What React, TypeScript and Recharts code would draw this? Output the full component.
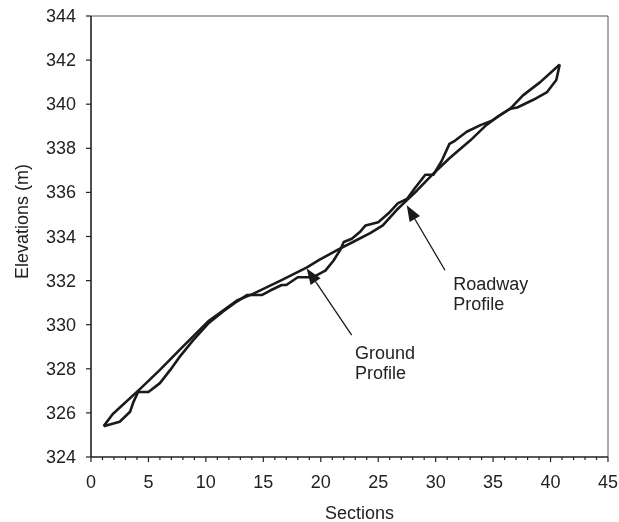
import React from "react";
import {
  LineChart,
  Line,
  XAxis,
  YAxis,
  ReferenceLine,
  ReferenceDot,
} from "recharts";

// ground profile (wiggly line)
const groundSections = [
  1.1, 2.5, 3.4, 3.7, 4.1, 5.0, 6.0, 6.9, 7.8, 8.9, 10.2, 11.5, 12.7, 13.6, 14.9,
  15.6, 16.6, 17.0, 18.0, 19.3, 20.4, 21.1, 21.7, 22.0, 22.7, 23.4, 23.9, 25.0,
  25.9, 26.7, 27.5, 28.2, 29.1, 29.8, 30.5, 31.2, 31.7, 32.7, 33.9, 34.9, 35.6,
  36.5, 37.1, 38.5, 39.7, 40.5, 40.8,
];
const groundElev = [
  325.4, 325.6, 326.05, 326.5, 326.95, 326.95, 327.35, 327.95, 328.6, 329.3,
  330.05, 330.6, 331.05, 331.35, 331.35, 331.55, 331.8, 331.8, 332.15, 332.15,
  332.45, 332.9, 333.4, 333.75, 333.9, 334.2, 334.5, 334.65, 335.05, 335.5,
  335.7, 336.2, 336.8, 336.8, 337.4, 338.2, 338.35, 338.75, 339.05, 339.25,
  339.5, 339.8, 339.85, 340.2, 340.55, 341.1, 341.8,
];

// roadway profile (smoother grade line)
const roadSections = [
  1.1, 1.9, 4.3, 6.0, 7.8, 10.2, 12.7, 14.1, 16.5, 18.8, 19.9, 21.5, 22.8, 24.3,
  25.4, 26.6, 27.3, 28.4, 29.8, 31.2, 33.0, 34.4, 35.3, 36.5, 37.6, 39.1, 40.8,
];
const roadElev = [
  325.4, 325.95, 327.1, 327.95, 328.9, 330.15, 331.1, 331.4, 332.0, 332.6,
  332.95, 333.4, 333.75, 334.15, 334.5, 335.2, 335.55, 336.1, 336.85, 337.55,
  338.35, 339.05, 339.4, 339.8, 340.4, 341.0, 341.8,
];

const xMajorTicks = [0, 5, 10, 15, 20, 25, 30, 35, 40, 45];
const xAllTicks = Array.from({ length: 46 }, (_, i) => i);
const yTicks = [324, 326, 328, 330, 332, 334, 336, 338, 340, 342, 344];

const groundData = groundSections.map((x, i) => ({ x, y: groundElev[i] }));
const roadData = roadSections.map((x, i) => ({ x, y: roadElev[i] }));

const font = { fontFamily: "'Liberation Sans', Arial, sans-serif", fontSize: 18, fill: "#222" };
const ink = "#1a1a1a";

const XTick = (props: any) => {
  const { x, y, payload } = props;
  const major = xMajorTicks.includes(payload.value);
  return (
    <g>
      <line x1={x} x2={x} y1={y} y2={y + (major ? 5 : 3)} stroke="#222" strokeWidth={1.2} />
      {major && (
        <text x={x} y={y + 25} textAnchor="middle" dominantBaseline="central" {...font}>
          {payload.value}
        </text>
      )}
    </g>
  );
};

const YTick = (props: any) => {
  const { x, y, payload } = props;
  return (
    <g>
      <line x1={x - 5} x2={x} y1={y} y2={y} stroke="#222" strokeWidth={1.2} />
      <text x={x - 15} y={y} textAnchor="end" dominantBaseline="central" {...font}>
        {payload.value}
      </text>
    </g>
  );
};

// thin arrow with filled head at (x2, y2)
const Arrow = (props: any) => {
  const { x1, y1, x2, y2 } = props;
  const dx = x2 - x1;
  const dy = y2 - y1;
  const len = Math.sqrt(dx * dx + dy * dy) || 1;
  const ux = dx / len;
  const uy = dy / len;
  const hl = 16;
  const hw = 6;
  const bx = x2 - ux * hl;
  const by = y2 - uy * hl;
  const pts = `${x2},${y2} ${bx - uy * hw},${by + ux * hw} ${bx + uy * hw},${by - ux * hw}`;
  return (
    <g>
      <line x1={x1} y1={y1} x2={bx} y2={by} stroke={ink} strokeWidth={1.3} />
      <polygon points={pts} fill={ink} />
    </g>
  );
};

const twoLines = (a: string, b: string) => (props: any) => (
  <text x={props.cx} y={props.cy} {...font}>
    <tspan x={props.cx}>{a}</tspan>
    <tspan x={props.cx} dy={20}>{b}</tspan>
  </text>
);

export default function App() {
  return (
    <div style={{ position: "fixed", left: 0, top: 0 }}>
      <LineChart width={619} height={522} margin={{ top: 16, right: 11, left: 0, bottom: 0 }}>
        <XAxis
          type="number"
          dataKey="x"
          domain={[0, 45]}
          ticks={xAllTicks}
          interval={0}
          height={65}
          tickSize={0}
          tickMargin={0}
          tickLine={false}
          tick={<XTick />}
          axisLine={{ stroke: "#222", strokeWidth: 1.6 }}
          label={{
            content: (p: any) => {
              const vb = p.viewBox;
              return (
                <text x={vb.x + vb.width / 2 + 10} y={vb.y + 62} textAnchor="middle" {...font}>
                  Sections
                </text>
              );
            },
          }}
        />
        <YAxis
          type="number"
          domain={[324, 344]}
          ticks={yTicks}
          interval={0}
          width={91}
          tickSize={0}
          tickMargin={0}
          tickLine={false}
          tick={<YTick />}
          axisLine={{ stroke: "#222", strokeWidth: 1.6 }}
          label={{
            content: (p: any) => {
              const vb = p.viewBox;
              const cx = vb.x + 22;
              const cy = vb.y + vb.height / 2 - 15;
              return (
                <text
                  x={cx}
                  y={cy}
                  transform={`rotate(-90 ${cx} ${cy})`}
                  textAnchor="middle"
                  dominantBaseline="central"
                  {...font}
                >
                  Elevations (m)
                </text>
              );
            },
          }}
        />
        <ReferenceLine y={344} stroke="#555" strokeWidth={1} />
        <ReferenceLine x={45} stroke="#555" strokeWidth={1} />
        <Line
          data={groundData}
          dataKey="y"
          type="linear"
          stroke={ink}
          strokeWidth={2.6}
          strokeLinejoin="round"
          dot={false}
          activeDot={false}
          isAnimationActive={false}
        />
        <Line
          data={roadData}
          dataKey="y"
          type="linear"
          stroke={ink}
          strokeWidth={2.6}
          strokeLinejoin="round"
          dot={false}
          activeDot={false}
          isAnimationActive={false}
        />
        <ReferenceLine
          segment={[
            { x: 22.69, y: 329.53 },
            { x: 18.77, y: 332.55 },
          ]}
          shape={<Arrow />}
        />
        <ReferenceLine
          segment={[
            { x: 30.81, y: 332.47 },
            { x: 27.48, y: 335.42 },
          ]}
          shape={<Arrow />}
        />
        <ReferenceDot x={22.98} y={328.44} r={0} shape={twoLines("Ground", "Profile")} />
        <ReferenceDot x={31.53} y={331.57} r={0} shape={twoLines("Roadway", "Profile")} />
      </LineChart>
    </div>
  );
}
